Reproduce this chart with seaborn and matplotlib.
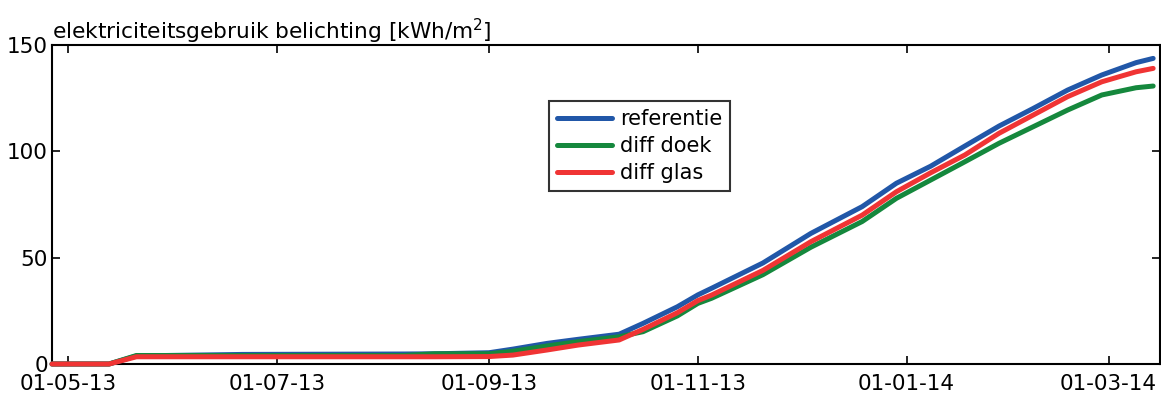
import matplotlib
matplotlib.use("Agg")
import matplotlib.pyplot as plt
import matplotlib.dates as mdates
import seaborn as sns
import pandas as pd
from datetime import datetime

dates = ["2013-04-26 08:00", "2013-05-13", "2013-05-21", "2013-06-21", "2013-08-07",
         "2013-08-16", "2013-09-01", "2013-09-08", "2013-09-18", "2013-09-27",
         "2013-10-09", "2013-10-16", "2013-10-26", "2013-11-01", "2013-11-05",
         "2013-11-20", "2013-12-04", "2013-12-19", "2013-12-29", "2014-01-08",
         "2014-01-18", "2014-01-28", "2014-02-07", "2014-02-17", "2014-02-27",
         "2014-03-09", "2014-03-14"]
referentie = [0, 0, 3.8, 4.5, 4.7, 4.8, 5.3, 7.0, 9.7, 11.6, 14.0, 19.1, 26.9, 32.5,
              35.6, 47.5, 61.4, 74.0, 85.0, 93.0, 102.5, 111.9, 120.2, 128.8, 135.9,
              141.7, 143.7]
diff_doek = [0, 0, 4.0, 4.0, 4.0, 4.8, 4.8, 6.0, 8.5, 10.5, 12.8, 15.2, 22.6, 28.5,
             30.9, 42.0, 54.9, 67.0, 77.9, 86.5, 95.1, 103.8, 111.6, 119.4, 126.5,
             129.9, 130.7]
diff_glas = [0, 0, 3.4, 3.4, 3.4, 3.4, 3.5, 4.2, 6.6, 8.9, 11.3, 16.3, 24.1, 29.8,
             32.4, 44.0, 57.5, 70.0, 81.0, 89.9, 98.3, 108.5, 117.1, 125.7, 132.7,
             137.4, 139.0]
series_names = ["referentie", "diff doek", "diff glas"]
colors = ["#2157a8", "#15883d", "#f03434"]
yticks = [0, 50, 100, 150]
xtick_dates = ["2013-05-01", "2013-07-01", "2013-09-01", "2013-11-01",
               "2014-01-01", "2014-03-01"]

frames = []
for name, vals in zip(series_names, [referentie, diff_doek, diff_glas]):
    frames.append(pd.DataFrame({"datum": pd.to_datetime(dates, format="mixed"),
                                "waarde": vals, "serie": name}))
df = pd.concat(frames, ignore_index=True)

sns.set_style("ticks")
plt.rcParams["font.family"] = ["DejaVu Sans"]
plt.rcParams["mathtext.fontset"] = "dejavusans"
plt.rcParams["text.color"] = "black"

fig = plt.figure(figsize=(11.61, 3.94), dpi=100)
ax = fig.add_axes([52 / 1161, 30 / 394, 1108 / 1161, 319 / 394])

sns.lineplot(data=df, x="datum", y="waarde", hue="serie", hue_order=series_names,
             palette=colors, linewidth=3.6, ax=ax, legend=True)
for ln in ax.get_lines():
    ln.set_clip_on(False)

ax.set_xlim(datetime(2013, 4, 26, 8), datetime(2014, 3, 16))
ax.set_ylim(0, 150)
ax.set_yticks(yticks)
ax.set_xticks(pd.to_datetime(xtick_dates))
ax.xaxis.set_major_formatter(mdates.DateFormatter("%d-%m-%y"))
ax.set_xlabel("")
ax.set_ylabel("")
ax.tick_params(direction="in", length=6, width=1.2, labelsize=15.5, colors="black",
               top=True, right=True)
ax.tick_params(axis="x", pad=7)
ax.tick_params(axis="y", pad=3)
for s in ax.spines.values():
    s.set_visible(True)
    s.set_linewidth(1.5)
    s.set_color("black")
    s.set_zorder(1)

ax.set_title(r"elektriciteitsgebruik belichting [kWh/m$^2$]", loc="left",
             fontsize=15.6, pad=4, color="black")

leg = ax.legend(loc="upper left", bbox_to_anchor=(0.4486, 0.824), borderaxespad=0,
                fontsize=15, frameon=True, fancybox=False, handlelength=2.6,
                handletextpad=0.4, labelspacing=0.32, borderpad=0.4)
leg.get_frame().set_edgecolor("black")
leg.get_frame().set_linewidth(1.5)
for t in leg.get_texts():
    t.set_color("black")
for line in leg.get_lines():
    line.set_linewidth(3.6)

fig.savefig("out.png", dpi=100)
